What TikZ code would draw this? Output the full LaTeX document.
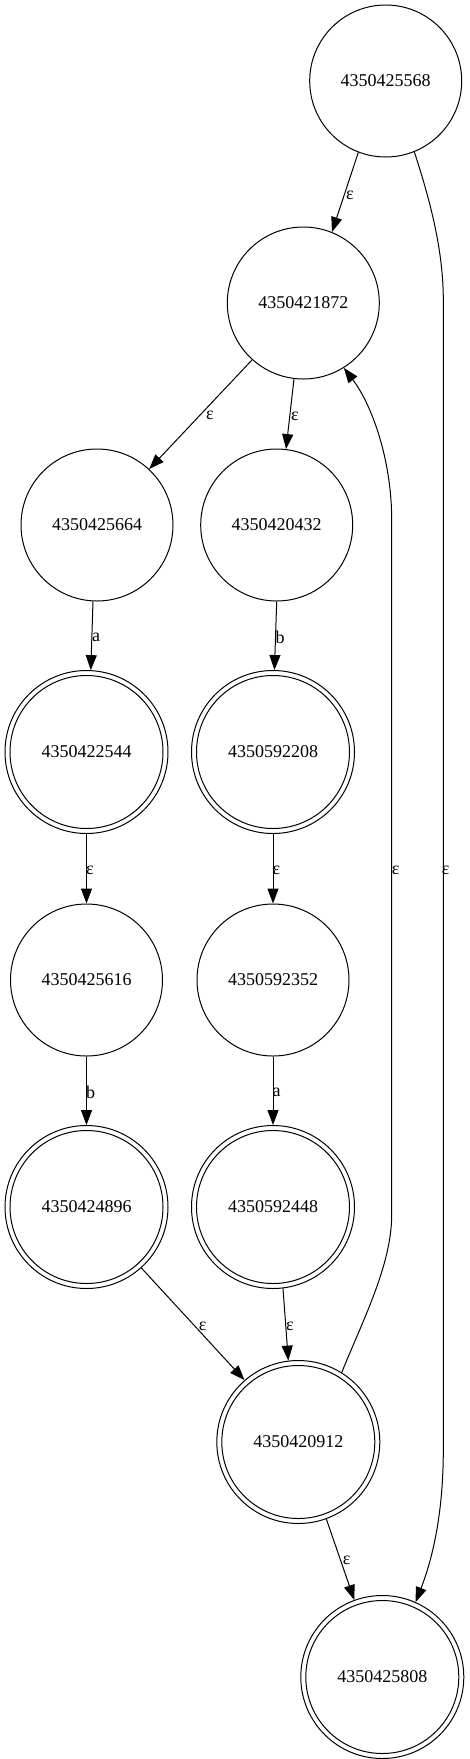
\documentclass[tikz,border=0pt]{standalone}
\usepackage{fontspec}
\setmainfont{Liberation Serif}
\usetikzlibrary{arrows.meta}
\begin{document}
\begin{tikzpicture}[x=1pt,y=-1pt,
  state/.style={circle,draw,line width=1pt,minimum size=152pt,inner sep=0pt,font=\fontsize{18}{20}\selectfont},
  accept/.style={state,minimum size=163pt},
  edge/.style={line width=1pt,-{Triangle[length=15pt,width=11pt]}},
  lab/.style={inner sep=0pt,font=\fontsize{18}{20}\selectfont}]
\useasboundingbox (0,0) rectangle (469,1759);
\node[state]  (A) at (385.7,81)   {4350425568};
\node[state]  (B) at (303.3,303)  {4350421872};
\node[state]  (C) at (97,525)     {4350425664};
\node[state]  (D) at (276.7,525)  {4350420432};
\node[accept] (E) at (86.5,752)   {4350422544};
\node[accept] (F) at (273,752)    {4350592208};
\node[state]  (G) at (86.5,980)   {4350425616};
\node[state]  (H) at (273,980)    {4350592352};
\node[accept] (I) at (86.5,1207)  {4350424896};
\node[accept] (J) at (273,1207)   {4350592448};
\node[accept] (K) at (298.3,1442) {4350420912};
\node[accept] (L) at (382.3,1677) {4350425808};
\foreach \n in {E,F,I,J,K,L} \draw[line width=1pt] (\n.center) circle[radius=76.5pt];

\draw[edge] (A.249) -- (B.68) node[lab,at={(350,195)}] {ε};
\draw[edge] (A.292) .. controls (430,200) and (443.3,250) .. (443.3,300)
  -- (443.3,1450) .. controls (443.3,1515) and (432,1560) .. (L.66)
  node[lab,at={(445.7,870)}] {ε};
\draw[edge] (B.228) -- (C.47) node[lab,at={(210,415)}] {ε};
\draw[edge] (B.263) -- (D.83) node[lab,at={(295,416)}] {ε};
\draw[edge] (C.267) -- (E.87) node[lab,at={(96,637)}] {a};
\draw[edge] (D.270) -- (F.89) node[lab,at={(280,637)}] {b};
\draw[edge] (E.270) -- (G.90) node[lab,at={(90,870)}] {ε};
\draw[edge] (F.270) -- (H.90) node[lab,at={(276.5,870)}] {ε};
\draw[edge] (G.270) -- (I.90) node[lab,at={(90.5,1092)}] {b};
\draw[edge] (H.270) -- (J.90) node[lab,at={(276.5,1092)}] {a};
\draw[edge] (I.312) -- (K.131) node[lab,at={(202.7,1326)}] {ε};
\draw[edge] (J.277) -- (K.97) node[lab,at={(290,1326)}] {ε};
\draw[edge] (K.290) -- (L.110) node[lab,at={(346.7,1560)}] {ε};
\draw[edge] (K.58) .. controls (362,1322) and (391.7,1265) .. (391.7,1215)
  -- (391.7,520) .. controls (391.7,460) and (372,405) .. (B.302)
  node[lab,at={(395.7,870)}] {ε};
\end{tikzpicture}
\end{document}
